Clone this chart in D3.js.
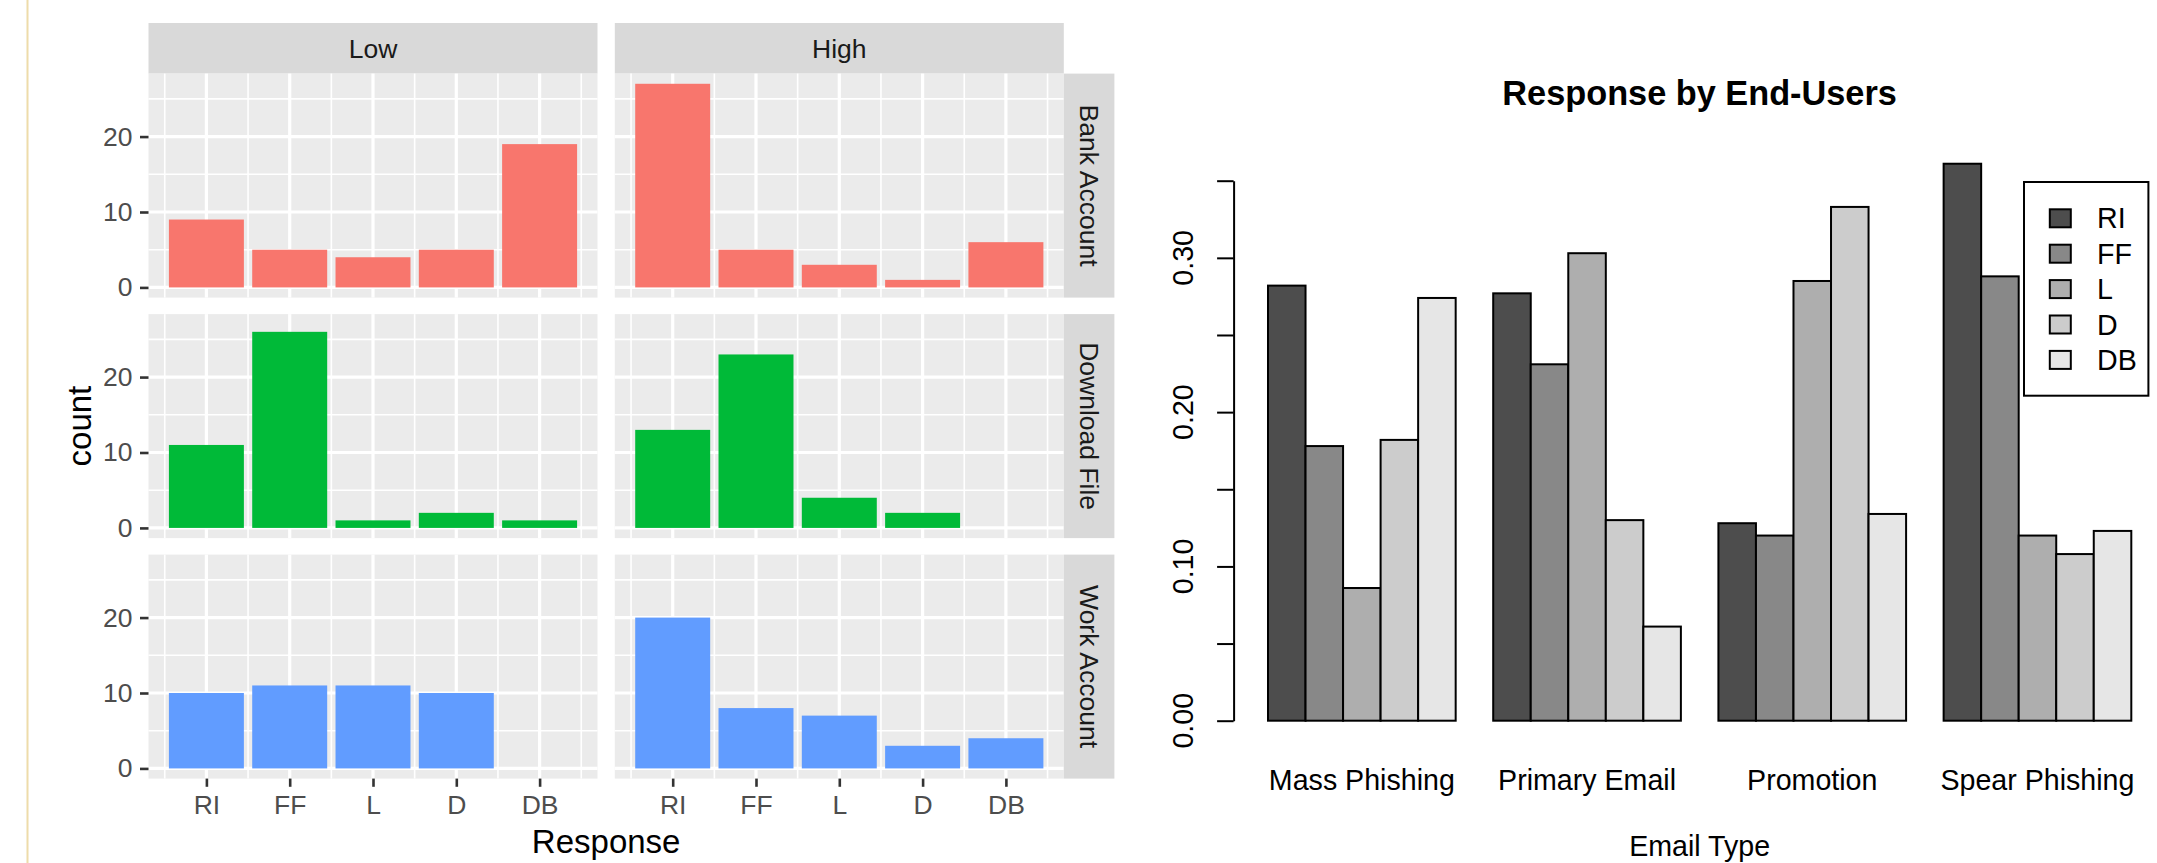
<!DOCTYPE html>
<html>
<head>
<meta charset="utf-8">
<script src="https://cdn.jsdelivr.net/npm/d3@7"></script>
<style>
  body { margin: 0; background: #fff; }
  svg { display: block; font-family: "Liberation Sans", Arial, sans-serif; }
</style>
</head>
<body>
<svg id="chart" width="2157" height="863"></svg>
<script>
// ---- data: left facet chart (counts) ----
var responses = ["RI", "FF", "L", "D", "DB"];
var levels = ["Low", "High"];
var actions = ["Bank Account", "Download File", "Work Account"];

var bankLow = [9, 5, 4, 5, 19];
var bankHigh = [27, 5, 3, 1, 6];
var downloadLow = [11, 26, 1, 2, 1];
var downloadHigh = [13, 23, 4, 2, 0];
var workLow = [10, 11, 11, 10, 0];
var workHigh = [20, 8, 7, 3, 4];

var countTicks = [0, 10, 20];

// ---- data: right grouped bar chart (share of responses) ----
var emailTypes = ["Mass Phishing", "Primary Email", "Promotion", "Spear Phishing"];
var riShare = [0.282, 0.277, 0.128, 0.361];
var ffShare = [0.178, 0.231, 0.120, 0.288];
var lShare = [0.086, 0.303, 0.285, 0.120];
var dShare = [0.182, 0.130, 0.333, 0.108];
var dbShare = [0.274, 0.061, 0.134, 0.123];

var shareTicks = [0, 0.05, 0.10, 0.15, 0.20, 0.25, 0.30, 0.35];
var shareLabels = [0, 0.10, 0.20, 0.30];

var countRows = [[bankLow, bankHigh], [downloadLow, downloadHigh], [workLow, workHigh]];
var shares = [riShare, ffShare, lShare, dShare, dbShare];
var rowColors = ["#F8766D", "#00BA38", "#619CFF"];
var greys = ["#4D4D4D", "#888888", "#AEAEAE", "#CCCCCC", "#E6E6E6"];

var svg = d3.select("#chart");

// pane border at far left
svg.append("line")
  .attr("x1", 27.5).attr("x2", 27.5).attr("y1", 0).attr("y2", 863)
  .attr("stroke", "#eedcaa").attr("stroke-width", 2);

// ================= facet chart =================
var panelX = [148.5, 614.8];
var panelW = 449;
var panelTop = 73.6;
var rowPitch = 240.5;
var panelH = 224;
var stripH = 50.6;

var x = d3.scaleLinear().domain([0.305, 5.695]).range([0, panelW]);
var y = d3.scaleLinear().domain([-1.35, 28.35]).range([panelH, 0]);

// top strips
levels.forEach(function(level, c) {
  svg.append("rect")
    .attr("x", panelX[c]).attr("y", panelTop - stripH)
    .attr("width", panelW).attr("height", stripH)
    .attr("fill", "#D9D9D9");
  svg.append("text")
    .attr("x", panelX[c] + panelW / 2).attr("y", panelTop - stripH / 2)
    .attr("dy", "0.35em")
    .attr("text-anchor", "middle")
    .attr("font-size", 26.5)
    .attr("fill", "#1A1A1A")
    .text(level);
});

actions.forEach(function(action, r) {
  var top = panelTop + r * rowPitch;

  levels.forEach(function(level, c) {
    var g = svg.append("g")
      .attr("transform", "translate(" + panelX[c] + "," + top + ")");

    g.append("rect")
      .attr("width", panelW).attr("height", panelH)
      .attr("fill", "#EBEBEB");

    // minor grid
    g.selectAll(".ymin").data([5, 15, 25]).enter().append("line")
      .attr("x1", 0).attr("x2", panelW)
      .attr("y1", function(d) { return y(d); }).attr("y2", function(d) { return y(d); })
      .attr("stroke", "#fff").attr("stroke-width", 1.6);
    g.selectAll(".xmin").data([0.5, 1.5, 2.5, 3.5, 4.5, 5.5]).enter().append("line")
      .attr("y1", 0).attr("y2", panelH)
      .attr("x1", function(d) { return x(d); }).attr("x2", function(d) { return x(d); })
      .attr("stroke", "#fff").attr("stroke-width", 1.6);

    // major grid
    g.selectAll(".ymaj").data(countTicks).enter().append("line")
      .attr("x1", 0).attr("x2", panelW)
      .attr("y1", function(d) { return y(d); }).attr("y2", function(d) { return y(d); })
      .attr("stroke", "#fff").attr("stroke-width", 3.2);
    g.selectAll(".xmaj").data([1, 2, 3, 4, 5]).enter().append("line")
      .attr("y1", 0).attr("y2", panelH)
      .attr("x1", function(d) { return x(d); }).attr("x2", function(d) { return x(d); })
      .attr("stroke", "#fff").attr("stroke-width", 3.2);

    // bars
    var vals = countRows[r][c].map(function(v, i) { return { v: v, i: i }; })
      .filter(function(d) { return d.v > 0; });
    g.selectAll(".bar").data(vals).enter().append("rect")
      .attr("x", function(d) { return x(d.i + 1 - 0.45); })
      .attr("width", x(1.45) - x(0.55))
      .attr("y", function(d) { return y(d.v); })
      .attr("height", function(d) { return y(0) - y(d.v); })
      .attr("fill", rowColors[r]);

    if (c === 0) {
      var ya = g.append("g")
        .call(d3.axisLeft(y).tickValues(countTicks).tickSize(8.5).tickPadding(7.5));
      ya.select(".domain").remove();
      ya.selectAll("line").attr("stroke", "#333").attr("stroke-width", 2.6);
      ya.selectAll("text").attr("font-size", 26.5).attr("fill", "#4D4D4D")
        .attr("font-family", "Liberation Sans, Arial, sans-serif");
    }
    if (r === actions.length - 1) {
      var xa = g.append("g")
        .attr("transform", "translate(0," + panelH + ")")
        .call(d3.axisBottom(x).tickValues([1, 2, 3, 4, 5])
          .tickFormat(function(d) { return responses[d - 1]; })
          .tickSize(8.2).tickPadding(8.6));
      xa.select(".domain").remove();
      xa.selectAll("line").attr("stroke", "#333").attr("stroke-width", 2.6);
      xa.selectAll("text").attr("font-size", 26.5).attr("fill", "#4D4D4D")
        .attr("font-family", "Liberation Sans, Arial, sans-serif");
    }
  });

  // right strip
  var sx = panelX[1] + panelW;
  svg.append("rect")
    .attr("x", sx).attr("y", top)
    .attr("width", stripH).attr("height", panelH)
    .attr("fill", "#D9D9D9");
  svg.append("text")
    .attr("transform", "translate(" + (sx + stripH / 2) + "," + (top + panelH / 2) + ") rotate(90)")
    .attr("dy", "0.35em")
    .attr("text-anchor", "middle")
    .attr("font-size", 26.5)
    .attr("fill", "#1A1A1A")
    .text(action);
});

// axis titles
var facetBottom = panelTop + 2 * rowPitch + panelH;
svg.append("text")
  .attr("x", (panelX[0] + panelX[1] + panelW) / 2).attr("y", 841.7)
  .attr("dy", "0.35em")
  .attr("text-anchor", "middle")
  .attr("font-size", 33)
  .text("Response");
svg.append("text")
  .attr("transform", "translate(79," + (panelTop + facetBottom) / 2 + ") rotate(-90)")
  .attr("dy", "0.35em")
  .attr("text-anchor", "middle")
  .attr("font-size", 33)
  .text("count");

// ================= grouped bar chart =================
var xR = d3.scaleLinear().domain([1, 24]).range([1268, 2131.3]);
var yR = d3.scaleLinear().domain([0, 0.35]).range([720.7, 180.7]);
var axisX = 1233.6;

svg.append("text")
  .attr("x", 1699.6).attr("y", 93.3)
  .attr("dy", "0.35em")
  .attr("text-anchor", "middle")
  .attr("font-size", 34.3)
  .attr("font-weight", "bold")
  .text("Response by End-Users");

emailTypes.forEach(function(type, gi) {
  var bars = shares.map(function(s, i) { return { v: s[gi], i: i }; });
  svg.selectAll(".grp" + gi).data(bars).enter().append("rect")
    .attr("x", function(d) { return xR(1 + gi * 6 + d.i); })
    .attr("width", xR(2) - xR(1))
    .attr("y", function(d) { return yR(d.v); })
    .attr("height", function(d) { return yR(0) - yR(d.v); })
    .attr("fill", function(d) { return greys[d.i]; })
    .attr("stroke", "#000").attr("stroke-width", 2);

  svg.append("text")
    .attr("x", xR(1 + gi * 6 + 2.5)).attr("y", 780)
    .attr("dy", "0.35em")
    .attr("text-anchor", "middle")
    .attr("font-size", 28.6)
    .text(type);
});

var yAxisR = svg.append("g")
  .attr("transform", "translate(" + axisX + ",0)")
  .call(d3.axisLeft(yR).tickValues(shareTicks).tickFormat("").tickSize(16.5).tickSizeOuter(0));
yAxisR.selectAll("line").attr("stroke", "#000").attr("stroke-width", 2);
yAxisR.select(".domain").attr("stroke", "#000").attr("stroke-width", 2);

svg.selectAll(".ylabR").data(shareLabels).enter().append("text")
  .attr("transform", function(d) { return "translate(1183," + yR(d) + ") rotate(-90)"; })
  .attr("dy", "0.35em")
  .attr("text-anchor", "middle")
  .attr("font-size", 28.6)
  .text(function(d) { return d3.format(".2f")(d); });

svg.append("text")
  .attr("x", 1699.6).attr("y", 846)
  .attr("dy", "0.35em")
  .attr("text-anchor", "middle")
  .attr("font-size", 28.6)
  .text("Email Type");

// legend
var legend = svg.append("g").attr("transform", "translate(2024,182)");
legend.append("rect")
  .attr("width", 124.4).attr("height", 213.7)
  .attr("fill", "#fff").attr("stroke", "#000").attr("stroke-width", 2);
responses.forEach(function(resp, i) {
  var cy = 36.3 + i * 35.4;
  legend.append("rect")
    .attr("x", 25.8).attr("y", cy - 9)
    .attr("width", 21).attr("height", 18)
    .attr("fill", greys[i]).attr("stroke", "#000").attr("stroke-width", 2);
  legend.append("text")
    .attr("x", 73).attr("y", cy)
    .attr("dy", "0.35em")
    .attr("font-size", 28.6)
    .text(resp);
});
</script>
</body>
</html>
